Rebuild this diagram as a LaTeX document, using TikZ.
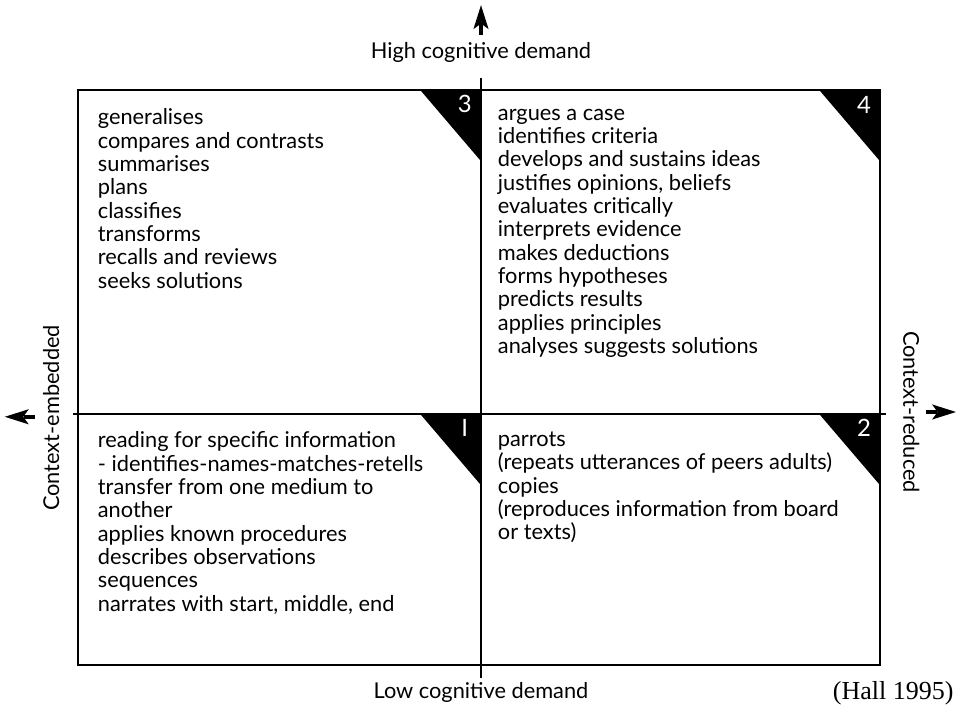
\documentclass[tikz,border=0pt]{standalone}
\usepackage{fontspec}
\setmainfont{Lato}
\newfontfamily\hallfont{Liberation Serif}
\usetikzlibrary{positioning}

\begin{document}
\begin{tikzpicture}
		[
			line width=1.3pt,
			quad/.style={anchor=north west, align=left, inner sep=0pt,
				font=\fontsize{15.5}{16.6}\selectfont},
			corner/.style={fill=black},
			num/.style={text=white, inner sep=0pt, font=\fontsize{17}{17}\selectfont},
			axislabel/.style={inner sep=0pt, font=\fontsize{15.5}{15.5}\selectfont}
		]
		\useasboundingbox (0,0) rectangle (24.05,17.65);

		% frame corners
		\coordinate (NW) at (  1.95 , 15.40 );
		\coordinate (SE) at ( 22.00 ,  1.025 );

		% axis ends
		\coordinate (top)   at ( 12.025, 15.70 );
		\coordinate (bot)   at ( 12.025,  0.70 );
		\coordinate (lft)   at (  1.825,  7.30 );
		\coordinate (rgt)   at ( 22.15 ,  7.30 );

		% triangle corners
		\coordinate (T3) at ( 12.025, 15.40 );
		\coordinate (T4) at ( 22.00 , 15.40 );
		\coordinate (T1) at ( 12.025,  7.30 );
		\coordinate (T2) at ( 22.00 ,  7.30 );

		% arrow mark tips
		\coordinate (upB)  at ( 12.025, 17.52 );
		\coordinate (leB)  at (  0.12 ,  7.23 );
		\coordinate (riB)  at ( 23.90 ,  7.35 );

		% frame and axes
		\draw (NW) rectangle (SE);
		\draw (top) -- (bot);
		\draw (lft) -- (rgt);

		% triangles
		\foreach \t in {T1,T2,T3,T4}
		\fill[corner] (\t) -- ++(-1.52,0) -- ++(1.52,-1.78) -- cycle;

		% numbers
		\node[num] (N3) at ( 11.62, 15.05 ) {3};
		\node[num] (N4) at ( 21.60, 15.02 ) {4};
		\node[num] (N1) at ( 11.62,  6.95 ) {I};
		\node[num] (N2) at ( 21.60,  6.95 ) {2};

		% quadrant texts
		\node[quad] (Q3) at (  2.425, 14.95 ) {generalises\\
			compares and contrasts\\ summarises\\ plans\\ classifies\\
			transforms\\ recalls and reviews\\ seeks solutions};
		\node[quad] (Q4) at ( 12.425, 14.95 ) {argues a case\\
			identifies criteria\\ develops and sustains ideas\\
			justifies opinions, beliefs\\ evaluates critically\\
			interprets evidence\\ makes deductions\\ forms hypotheses\\
			predicts results\\ applies principles\\
			analyses suggests solutions};
		\node[quad] (Q1) at (  2.425,  6.88 ) {reading for specific information\\
			- identifies-names-matches-retells\\
			transfer from one medium to\\ another\\
			applies known procedures\\ describes observations\\
			sequences\\ narrates with start, middle, end};
		\node[quad] (Q2) at ( 12.425,  6.88 ) {parrots\\
			(repeats utterances of peers adults)\\ copies\\
			(reproduces information from board\\ or texts)};

		% axis labels
		\node[axislabel] (high) at ( 12.025, 16.35 ) {High cognitive demand};
		\node[axislabel] (low)  at ( 12.025,  0.33 ) {Low cognitive demand};
		\node[axislabel, rotate=90]  (emb) at (  1.28, 7.20 ) {Context-embedded};
		\node[axislabel, rotate=-90] (red) at ( 22.78, 7.35 ) {Context-reduced};
		\node[inner sep=0pt, font=\hallfont\fontsize{18.5}{18.5}\selectfont]
			(hall) at ( 22.33, 0.32 ) {(Hall 1995)};

		% arrow marks
		\foreach \c/\a in {upB/90,leB/180,riB/0}
		{
			\fill[shift={(\c)}, rotate=\a] (0,0) -- (-0.60,0.19) -- (-0.46,0)
				-- (-0.60,-0.19) -- cycle;
			\draw[shift={(\c)}, rotate=\a, line width=3pt] (-0.47,0) -- (-0.75,0);
		}

	\end{tikzpicture}
\end{document}
